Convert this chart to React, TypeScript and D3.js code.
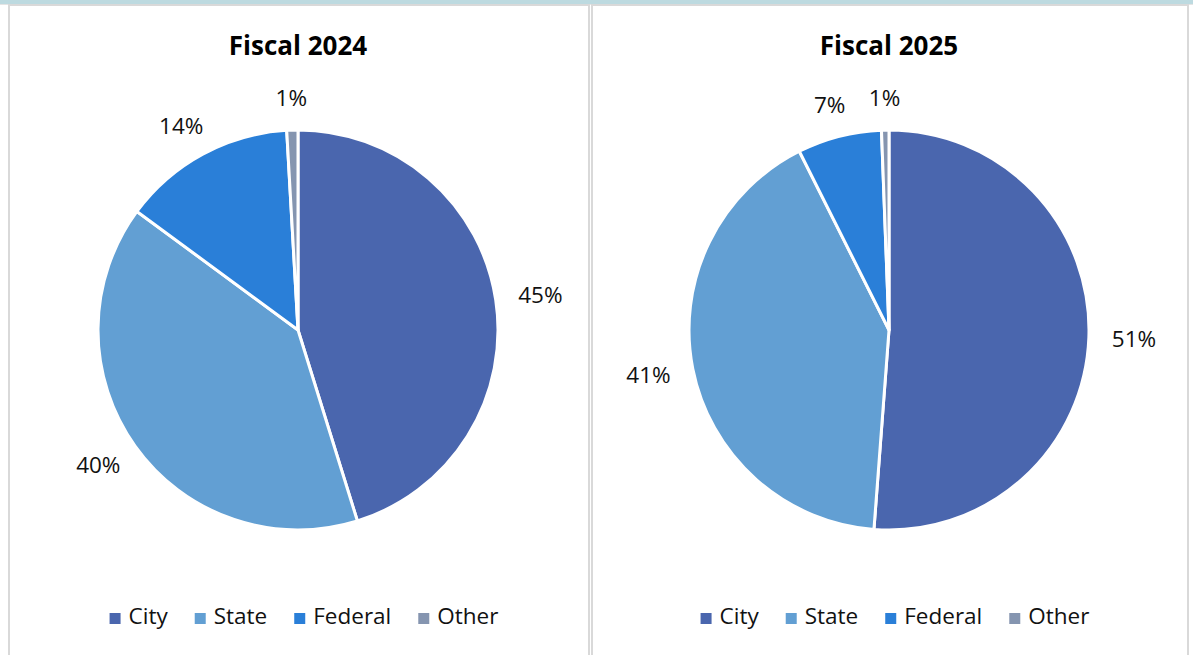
// Funding source split - two pies, Fiscal 2024 vs Fiscal 2025
import React, { useEffect, useRef } from 'react';
import * as d3 from 'd3';

const categories = ['City', 'State', 'Federal', 'Other'];
const titles = ['Fiscal 2024', 'Fiscal 2025'];
const values2024 = [45.2, 39.9, 14.0, 0.9];
const values2025 = [51.2, 41.4, 6.8, 0.6];
const sliceColors = ['#4A66AE', '#629FD3', '#2A7FD8', '#8595B0'];

const WIDTH = 1193;
const HEIGHT = 655;
const FONT = '"Open Sans", "Noto Sans", sans-serif';

const App: React.FC = () => {
  const svgRef = useRef<SVGSVGElement>(null);

  useEffect(() => {
    if (!svgRef.current) return;
    const svg = d3.select(svgRef.current);
    svg.selectAll('*').remove();

    // top band + panel frames
    svg.append('rect').attr('x', 0).attr('y', 0).attr('width', WIDTH).attr('height', 4).attr('fill', '#BDDAE0');
    svg.append('rect').attr('x', 0).attr('y', 4).attr('width', WIDTH).attr('height', 1).attr('fill', '#E4E4E4');

    const panels = [
      { x: 9, w: 580, values: values2024, title: titles[0] },
      { x: 592, w: 596, values: values2025, title: titles[1] }
    ];

    const radius = 200;
    const cy = 330;

    const pie = d3.pie<number>().sort(null).value(d => d);
    const arc = d3.arc<d3.PieArcDatum<number>>().innerRadius(0).outerRadius(radius);

    panels.forEach(p => {
      svg.append('rect')
        .attr('x', p.x).attr('y', 5)
        .attr('width', p.w).attr('height', HEIGHT + 10)
        .attr('fill', 'white')
        .attr('stroke', '#D9D9D9')
        .attr('stroke-width', 2);

      const cx = p.x + p.w / 2 - 1;

      svg.append('text')
        .attr('x', cx)
        .attr('y', 55)
        .attr('text-anchor', 'middle')
        .attr('font-family', FONT)
        .attr('font-weight', 'bold')
        .attr('font-size', '26px')
        .attr('fill', '#000')
        .text(p.title);

      const g = svg.append('g').attr('transform', `translate(${cx},${cy})`);
      const arcs = pie(p.values);

      g.selectAll('path')
        .data(arcs)
        .enter()
        .append('path')
        .attr('d', d => arc(d) as string)
        .attr('fill', (d, i) => sliceColors[i])
        .attr('stroke', '#fff')
        .attr('stroke-width', 3)
        .attr('stroke-linejoin', 'round');

      const total = d3.sum(p.values);

      // outside-end labels, nudged so the text box sits just off the rim
      arcs.forEach(d => {
        const mid = (d.startAngle + d.endAngle) / 2;
        const s = Math.sin(mid);
        const c = -Math.cos(mid);
        const lr = radius + 23;
        const t = g.append('text')
          .attr('text-anchor', 'middle')
          .attr('font-family', FONT)
          .attr('font-size', '22.5px')
          .attr('fill', '#111')
          .text(`${Math.round((d.data / total) * 100)}%`);
        const w = (t.node() as SVGTextElement).getComputedTextLength();
        const x = s * lr + s * (w / 2);
        const y = c * lr + c * 9;
        t.attr('x', x).attr('y', y + 8);
      });

      // legend
      const legend = svg.append('g');
      let lx = 0;
      categories.forEach((name, i) => {
        const item = legend.append('g').attr('transform', `translate(${lx},0)`);
        item.append('rect')
          .attr('x', 0).attr('y', -11)
          .attr('width', 11).attr('height', 11)
          .attr('fill', sliceColors[i]);
        const t = item.append('text')
          .attr('x', 19)
          .attr('y', 0)
          .attr('font-family', FONT)
          .attr('font-size', '22.5px')
          .attr('fill', '#111')
          .text(name);
        const w = (t.node() as SVGTextElement).getComputedTextLength();
        lx += 19 + w + 27;
      });
      const legendWidth = lx - 27;
      legend.attr('transform', `translate(${cx + 6 - legendWidth / 2},${624})`);
    });
  }, []);

  return (
    <div style={{ position: 'absolute', left: 0, top: 0, width: WIDTH, height: HEIGHT, overflow: 'hidden', background: '#fff' }}>
      <svg ref={svgRef} width={WIDTH} height={HEIGHT} style={{ display: 'block' }} />
    </div>
  );
};

export default App;
